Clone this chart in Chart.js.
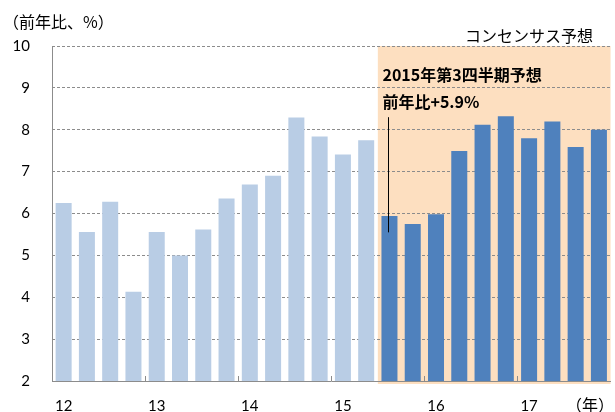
<!DOCTYPE html>
<html>
<head>
<meta charset="utf-8">
<script src="https://cdn.jsdelivr.net/npm/chart.js@4"></script>
<style>
  body { margin: 0; background: #fff; }
  #wrap { width: 615px; height: 412px; }
</style>
</head>
<body>
<div id="wrap"><canvas id="c" width="615" height="412"></canvas></div>
<script>
var quarters = [
  "12Q1", "12Q2", "12Q3", "12Q4", "13Q1", "13Q2", "13Q3", "13Q4",
  "14Q1", "14Q2", "14Q3", "14Q4", "15Q1", "15Q2", "15Q3", "15Q4",
  "16Q1", "16Q2", "16Q3", "16Q4", "17Q1", "17Q2", "17Q3", "17Q4"
];
var yearLabels = ["12", "13", "14", "15", "16", "17"];
var growth = [
  6.25, 5.56, 6.28, 4.13, 5.56, 5.0, 5.62, 6.36,
  6.69, 6.9, 8.29, 7.84, 7.41, 7.75, 5.94, 5.75,
  5.98, 7.49, 8.12, 8.32, 7.8, 8.2, 7.59, 8.0
];
var firstForecast = 14; // 2015Q3 onward is consensus forecast
var calloutRange = [8.3, 5.55];

var JP = "'Noto Sans CJK JP', sans-serif";
var NUM = "Lato, 'Noto Sans CJK JP', sans-serif";

var barColors = growth.map(function (v, i) {
  return i >= firstForecast ? "#4f81bd" : "#b9cde5";
});

var decor = {
  id: "decor",
  beforeDraw: function (chart) {
    var ctx = chart.ctx, x = chart.scales.x, a = chart.chartArea;
    var step = x.getPixelForValue(1) - x.getPixelForValue(0);
    var left = x.getPixelForValue(firstForecast) - step / 2;
    ctx.save();
    ctx.fillStyle = "#fddfc0";
    ctx.fillRect(left, a.top, a.right - left, a.bottom - a.top + 3);
    ctx.restore();
  },
  afterDraw: function (chart) {
    var ctx = chart.ctx, x = chart.scales.x, y = chart.scales.y, a = chart.chartArea;
    var step = x.getPixelForValue(1) - x.getPixelForValue(0);
    ctx.save();
    // y axis line (solid)
    ctx.strokeStyle = "#8c8c8c";
    ctx.lineWidth = 1;
    ctx.beginPath();
    ctx.moveTo(Math.round(a.left) + 0.5, a.top);
    ctx.lineTo(Math.round(a.left) + 0.5, a.bottom);
    ctx.stroke();
    // year separators
    for (var i = 4; i < quarters.length; i += 4) {
      var px = Math.round(x.getPixelForValue(i) - step / 2) + 0.5;
      ctx.beginPath();
      ctx.moveTo(px, a.bottom);
      ctx.lineTo(px, a.bottom - 5);
      ctx.stroke();
    }
    // callout line
    var cx = Math.round(x.getPixelForValue(firstForecast)) - 0.5;
    ctx.strokeStyle = "#000";
    ctx.beginPath();
    ctx.moveTo(cx, y.getPixelForValue(calloutRange[0]));
    ctx.lineTo(cx, y.getPixelForValue(calloutRange[1]));
    ctx.stroke();
    // texts
    ctx.fillStyle = "#000";
    ctx.textBaseline = "middle";
    ctx.font = "16px " + JP;
    ctx.textAlign = "left";
    ctx.fillText("（前年比、%）", 3, 22);
    ctx.textAlign = "right";
    ctx.fillText("コンセンサス予想", 593, 36);
    ctx.fillText("（年）", 614, 405);
    ctx.textAlign = "left";
    ctx.font = "bold 16px 'Liberation Sans Narrow', " + JP;
    var tx = x.getPixelForValue(firstForecast) - 7;
    ctx.fillText("2015年第3四半期予想", tx, 75);
    ctx.fillText("前年比+5.9%", tx, 102);
    ctx.restore();
  }
};

new Chart(document.getElementById("c"), {
  type: "bar",
  data: {
    labels: quarters,
    datasets: [{
      data: growth,
      backgroundColor: barColors,
      barPercentage: 0.8,
      categoryPercentage: 0.86
    }]
  },
  options: {
    responsive: false,
    animation: false,
    layout: { padding: { top: 46, right: 4, left: 0, bottom: 0 } },
    plugins: {
      legend: { display: false },
      tooltip: { enabled: false }
    },
    scales: {
      x: {
        grid: { display: false, drawTicks: false },
        border: { color: "#8c8c8c" },
        ticks: {
          autoSkip: false,
          maxRotation: 0,
          padding: 16,
          color: "#000",
          font: { family: NUM, size: 15 },
          callback: function (v, i) {
            return i % 4 === 0 ? yearLabels[i / 4] : "";
          }
        },
        afterFit: function (s) { s.height = 31; }
      },
      y: {
        min: 2,
        max: 10,
        ticks: {
          stepSize: 1,
          padding: 22,
          color: "#000",
          font: { family: NUM, size: 15 }
        },
        grid: {
          color: "#8c8c8c",
          drawTicks: false
        },
        border: { display: false, dash: [3, 2] },
        afterFit: function (s) { s.width = 52; }
      }
    }
  },
  plugins: [decor]
});
</script>
</body>
</html>
